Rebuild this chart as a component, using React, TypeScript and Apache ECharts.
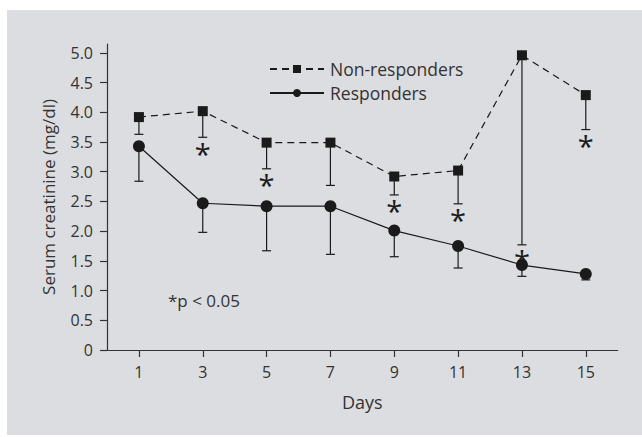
import React, { useEffect, useRef } from "react";
import * as echarts from "echarts";

const days = [1, 3, 5, 7, 9, 11, 13, 15];
const nonResponders = [3.92, 4.02, 3.49, 3.49, 2.92, 3.02, 4.96, 4.29];
const nonRespLower = [3.63, 3.58, 3.05, 2.77, 2.61, 2.46, 1.77, 3.71];
const responders = [3.43, 2.47, 2.42, 2.42, 2.01, 1.75, 1.43, 1.28];
const respLower = [2.84, 1.98, 1.67, 1.61, 1.57, 1.38, 1.24, 1.18];
const sigDays = [3, 5, 9, 11, 13, 15];
const yTicks = [0, 0.5, 1, 1.5, 2, 2.5, 3, 3.5, 4, 4.5, 5];
const xTicks = [1, 3, 5, 7, 9, 11, 13, 15];

const FONT = "Open Sans";
const TXT = "#333333";
const INK = "#1a1a1a";

export default function App() {
  const ref = useRef<HTMLDivElement>(null);
  useEffect(() => {
    if (!ref.current) return;
    const chart = echarts.init(ref.current, null, { renderer: "svg" });
    const errRender = (params: any, api: any) => {
      const p0 = api.coord([api.value(0), api.value(1)]);
      const p1 = api.coord([api.value(0), api.value(2)]);
      const st = { stroke: INK, lineWidth: 1.2 };
      return {
        type: "group",
        children: [
          { type: "line", shape: { x1: p0[0], y1: p0[1], x2: p1[0], y2: p1[1] }, style: st },
          { type: "line", shape: { x1: p1[0] - 4.5, y1: p1[1], x2: p1[0] + 4.5, y2: p1[1] }, style: st },
        ],
      };
    };
    const starRender = (params: any, api: any) => {
      const p = api.coord([api.value(0), api.value(1)]);
      return {
        type: "text",
        x: p[0],
        y: p[1] + 16,
        style: {
          text: "*",
          fontFamily: FONT,
          fontSize: 29,
          fill: INK,
          align: "center",
          verticalAlign: "middle",
        },
      };
    };
    chart.setOption({
      animation: false,
      backgroundColor: "#ffffff",
      textStyle: { fontFamily: FONT },
      graphic: [
        {
          type: "rect",
          z: -10,
          silent: true,
          shape: { x: 7, y: 10, width: 635, height: 425 },
          style: { fill: "#dcdde0" },
        },
        {
          type: "text",
          x: 168,
          y: 300,
          style: {
            text: "*p < 0.05",
            fontFamily: FONT,
            fontSize: 17,
            fill: TXT,
            verticalAlign: "middle",
          },
        },
      ],
      grid: { left: 107, right: 24.3, top: 44, bottom: 87 },
      legend: {
        orient: "vertical",
        left: 264,
        top: 55,
        itemWidth: 54,
        itemHeight: 10,
        itemGap: 6,
        data: ["Non-responders", "Responders"],
        textStyle: { fontFamily: FONT, fontSize: 17.5, color: TXT, padding: [0, 0, 0, 1] },
      },
      xAxis: {
        type: "value",
        min: 0,
        max: 16,
        name: "Days",
        nameLocation: "middle",
        nameGap: 43,
        nameTextStyle: { fontFamily: FONT, fontSize: 18, color: TXT },
        axisLine: { show: true, lineStyle: { color: TXT, width: 1.2 } },
        axisTick: { show: true, length: 7, customValues: xTicks, lineStyle: { color: TXT, width: 1.2 } },
        axisLabel: { customValues: xTicks, margin: 14, fontSize: 16, fontFamily: FONT, color: TXT },
        splitLine: { show: false },
      },
      yAxis: {
        type: "value",
        min: 0,
        max: 5.15,
        name: "Serum creatinine (mg/dl)",
        nameLocation: "middle",
        nameGap: 50,
        nameTextStyle: { fontFamily: FONT, fontSize: 17, color: TXT },
        axisLine: { show: true, lineStyle: { color: TXT, width: 1.2 } },
        axisTick: { show: true, length: 7, customValues: yTicks, lineStyle: { color: TXT, width: 1.2 } },
        axisLabel: {
          customValues: yTicks,
          margin: 14,
          fontSize: 16,
          fontFamily: FONT,
          color: TXT,
          formatter: (v: number) => (v === 0 ? "0" : v.toFixed(1)),
        },
        splitLine: { show: false },
      },
      series: [
        {
          type: "custom",
          name: "errNon",
          renderItem: errRender,
          encode: { x: 0, y: [1, 2] },
          data: days.map((d, i) => [d, nonResponders[i], nonRespLower[i]]),
          z: 1,
        },
        {
          type: "custom",
          name: "errResp",
          renderItem: errRender,
          encode: { x: 0, y: [1, 2] },
          data: days.map((d, i) => [d, responders[i], respLower[i]]),
          z: 1,
        },
        {
          type: "custom",
          name: "stars",
          renderItem: starRender,
          encode: { x: 0, y: 1 },
          data: sigDays.map((d) => [d, nonRespLower[days.indexOf(d)]]),
          z: 3,
        },
        {
          type: "line",
          name: "Non-responders",
          data: days.map((d, i) => [d, nonResponders[i]]),
          symbol: "rect",
          symbolSize: 10,
          lineStyle: { color: INK, width: 1.2, type: [7, 5] },
          itemStyle: { color: INK },
          z: 2,
        },
        {
          type: "line",
          name: "Responders",
          data: days.map((d, i) => [d, responders[i]]),
          symbol: "circle",
          symbolSize: 12,
          lineStyle: { color: INK, width: 1.2 },
          itemStyle: { color: INK },
          z: 2,
        },
      ],
    });
    return () => chart.dispose();
  }, []);
  return (
    <div
      ref={ref}
      style={{ position: "fixed", left: 0, top: 0, width: 642, height: 437 }}
    />
  );
}
